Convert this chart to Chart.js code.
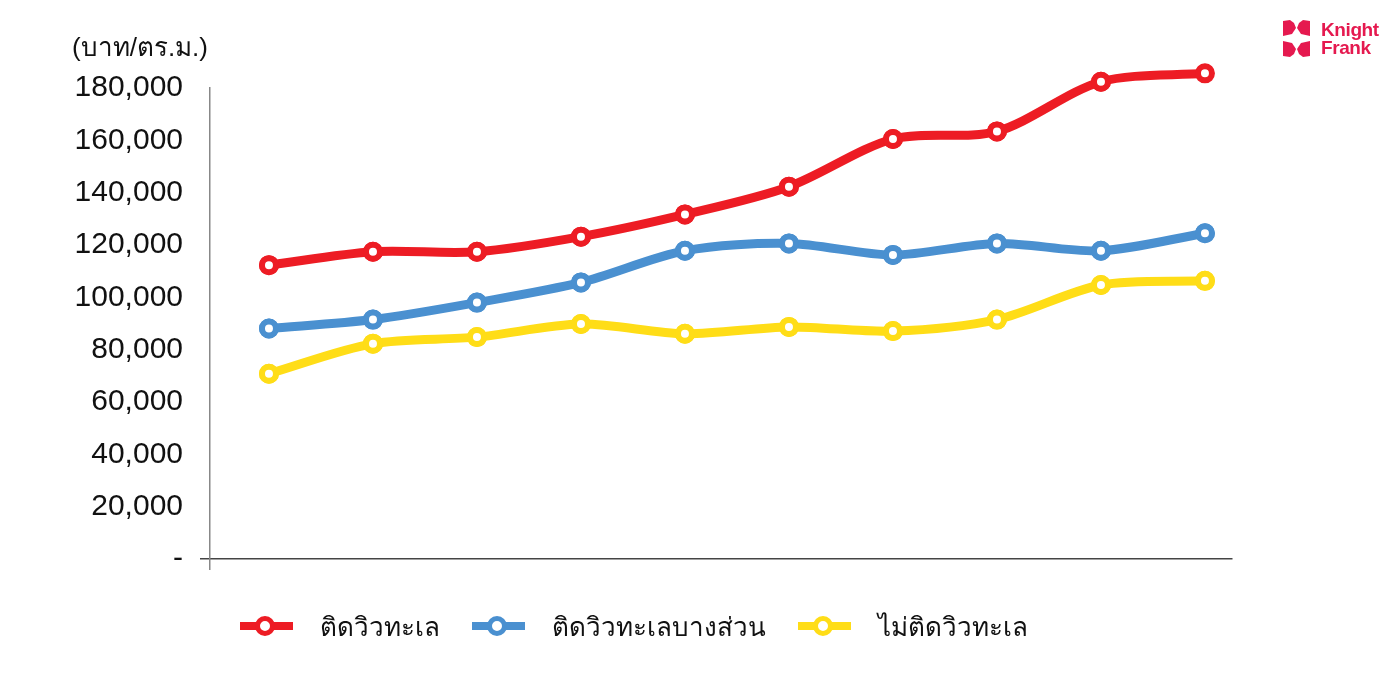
<!DOCTYPE html>
<html>
<head>
<meta charset="utf-8">
<script src="https://cdn.jsdelivr.net/npm/chart.js@4"></script>
<style>
    body { margin: 0; background: #fff; }
    #wrap { position: relative; width: 1392px; height: 682px; font-family: "Liberation Sans", Arial, sans-serif; }
    #unit { position: absolute; left: 72px; top: 26px; font-size: 26px; color: #111; }
    .leg { position: absolute; top: 609px; height: 34px; display: flex; align-items: center; font-size: 26px; color: #111; }
    .leg .icon { position: relative; width: 53px; height: 8px; margin-right: 27px; }
    .leg .icon span { position: absolute; left: 15px; top: -6px; width: 10px; height: 10px; border-radius: 50%; background: #fff; border: 5px solid; }
    #logo { position: absolute; left: 1283px; top: 20px; display: flex; align-items: center; }
    #logo .txt { margin-left: 11px; color: #E5194F; font-size: 19px; font-weight: bold; line-height: 18px; letter-spacing: -0.4px; }
</style>
</head>
<body>
<div id="wrap">
    <canvas id="priceChart" width="1392" height="682"></canvas>
    <div id="unit">(บาท/ตร.ม.)</div>
    <div id="legend"></div>
    <div id="logo">
        <svg width="27" height="37" viewBox="0 0 27 37">
            <path fill="#E5194F" d="M0 1 L7 0 L11 3 L13 8 L9 14 L0 16 Z"/>
            <path fill="#E5194F" d="M27 1 L20 0 L16 3 L14 8 L18 14 L27 16 Z"/>
            <path fill="#E5194F" d="M0 36 L7 37 L11 34 L13 29 L9 23 L0 21 Z"/>
            <path fill="#E5194F" d="M27 36 L20 37 L16 34 L14 29 L18 23 L27 21 Z"/>
        </svg>
        <div class="txt">Knight<br>Frank</div>
    </div>
</div>
<script>
// sequence of periods (the original chart shows no x labels)
const periods = [1, 2, 3, 4, 5, 6, 7, 8, 9, 10];

const seriesNames = ['ติดวิวทะเล', 'ติดวิวทะเลบางส่วน', 'ไม่ติดวิวทะเล'];
const seaView = [112300, 117400, 117400, 123200, 131700, 142300, 160500, 163400, 182400, 185600];
const partialView = [88100, 91500, 98000, 105700, 117800, 120600, 116200, 120600, 117800, 124500];
const noView = [70800, 82300, 84800, 89800, 86100, 88700, 87100, 91500, 104700, 106300];

const yTicks = [0, 20000, 40000, 60000, 80000, 100000, 120000, 140000, 160000, 180000];

const colors = ['rgb(237, 28, 36)', 'rgb(74, 144, 208)', 'rgb(255, 221, 23)'];

function toPoints(values) {
    return values.map((v, i) => ({ x: periods[i] - 1, y: v }));
}

function makeDataset(label, values, color) {
    return {
        label: label,
        data: toPoints(values),
        borderColor: color,
        borderWidth: 9,
        pointRadius: 7,
        pointBorderWidth: 6,
        pointBackgroundColor: '#fff',
        pointBorderColor: color,
        pointHoverRadius: 7,
        tension: 0.3,
        fill: false,
        clip: false
    };
}

// points above 180,000 are skipped by Chart.js, draw them again without the area check
const pointsOnTop = {
    id: 'pointsOnTop',
    afterDatasetsDraw(chart) {
        const ctx = chart.ctx;
        for (let i = chart.data.datasets.length - 1; i >= 0; i--) {
            chart.getDatasetMeta(i).data.forEach(p => p.draw(ctx));
        }
    }
};

document.addEventListener("DOMContentLoaded", () => {
    const ctx = document.getElementById("priceChart").getContext("2d");

    new Chart(ctx, {
        type: "line",
        data: {
            datasets: [
                makeDataset(seriesNames[0], seaView, colors[0]),
                makeDataset(seriesNames[1], partialView, colors[1]),
                makeDataset(seriesNames[2], noView, colors[2])
            ]
        },
        plugins: [pointsOnTop],
        options: {
            responsive: false,
            animation: false,
            layout: {
                padding: { top: 88, right: 160, left: 0, bottom: 0 }
            },
            plugins: {
                legend: { display: false },
                tooltip: { enabled: false }
            },
            scales: {
                x: {
                    type: 'linear',
                    min: -0.567,
                    max: 9.26,
                    afterBuildTicks: (axis) => { axis.ticks = [{ value: axis.min }]; },
                    afterFit: (axis) => { axis.height = 123; },
                    border: { color: '#444', width: 1.5 },
                    grid: {
                        drawOnChartArea: false,
                        drawTicks: true,
                        tickLength: 11,
                        color: '#888',
                        lineWidth: 1.5
                    },
                    ticks: { callback: () => '' }
                },
                y: {
                    min: 0,
                    max: 180000,
                    afterBuildTicks: (axis) => { axis.ticks = yTicks.map(v => ({ value: v })); },
                    afterFit: (axis) => { axis.width = 210; },
                    border: { color: '#888', width: 1.5 },
                    grid: {
                        drawOnChartArea: false,
                        drawTicks: true,
                        tickLength: 10,
                        lineWidth: 1.5,
                        color: (c) => (c.tick && c.tick.value === 0) ? '#444' : 'rgba(0,0,0,0)'
                    },
                    ticks: {
                        color: '#111',
                        padding: 17,
                        font: { family: '"Liberation Sans", Arial, sans-serif', size: 30 },
                        callback: (v) => v === 0 ? '-' : v.toLocaleString('en-US')
                    }
                }
            }
        }
    });

    // legend, positioned like the original
    const legend = document.getElementById('legend');
    const lefts = [240, 472, 798];
    seriesNames.forEach((name, i) => {
        const item = document.createElement('div');
        item.className = 'leg';
        item.style.left = lefts[i] + 'px';
        item.innerHTML = `<div class="icon" style="background:${colors[i]}"><span style="border-color:${colors[i]}"></span></div>${name}`;
        legend.appendChild(item);
    });
});
</script>
</body>
</html>
